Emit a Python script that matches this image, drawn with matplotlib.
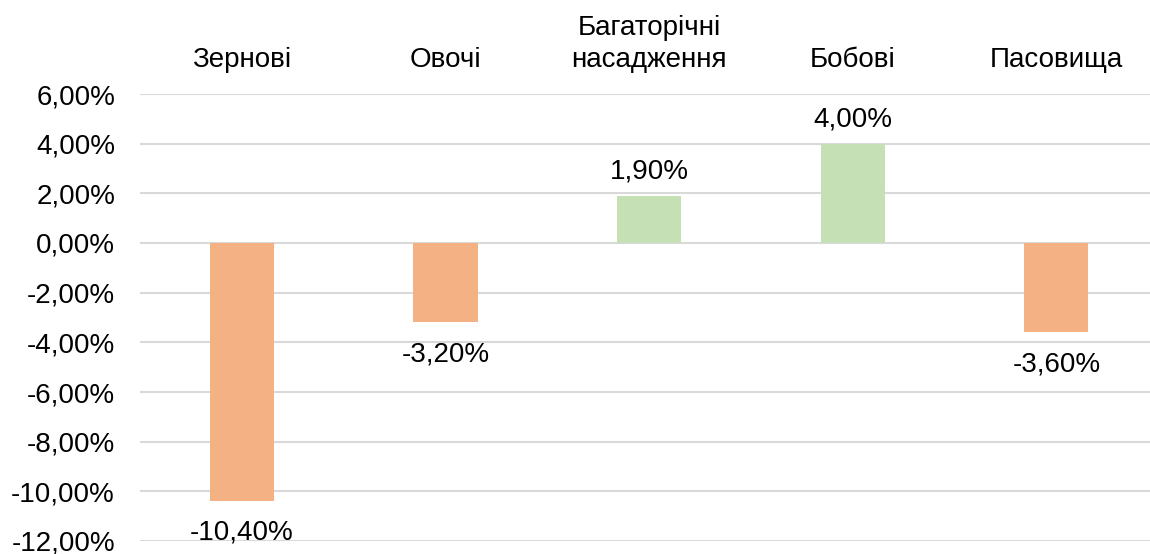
import matplotlib.pyplot as plt
from matplotlib.ticker import FuncFormatter

plt.rcParams['font.family'] = ['Liberation Sans', 'DejaVu Sans']

# --- Дані ---
categories = ["Зернові", "Овочі", "Багаторічні\nнасадження", "Бобові", "Пасовища"]
values = [-10.4, -3.2, 1.9, 4.0, -3.6]
y_ticks = [6, 4, 2, 0, -2, -4, -6, -8, -10, -12]

neg_color = "#F4B183"
pos_color = "#C5E0B4"
fs = 20


def pct(v):
    return f"{v:.2f}%".replace(".", ",")


fig = plt.figure(figsize=(11.5, 5.54), dpi=100)
ax = fig.add_axes([140 / 1150, 13 / 554, 1010 / 1150, 447 / 554])

x = range(len(categories))
colors = [pos_color if v > 0 else neg_color for v in values]
ax.bar(x, values, width=0.315, color=colors, zorder=3)

# підписи значень над/під стовпчиками
for xi, v in zip(x, values):
    if v >= 0:
        ax.text(xi, v + 0.45, pct(v), ha="center", va="bottom", fontsize=fs)
    else:
        ax.text(xi, v - 0.75, pct(v), ha="center", va="top", fontsize=fs)

ax.set_ylim(-12, 6)
ax.set_xlim(-0.5, 4.46)
ax.set_yticks(y_ticks)
ax.yaxis.set_major_formatter(FuncFormatter(lambda v, p: pct(v)))
ax.grid(axis="y", color="#D9D9D9", linewidth=1.5, zorder=0)

ax.xaxis.tick_top()
ax.set_xticks(list(x))
ax.set_xticklabels(categories, fontsize=fs, linespacing=1.3)
ax.tick_params(axis="both", length=0, labelsize=fs)
ax.tick_params(axis="x", pad=15)
ax.tick_params(axis="y", pad=18)

for s in ax.spines.values():
    s.set_visible(False)

fig.savefig("out.png", dpi=100)
